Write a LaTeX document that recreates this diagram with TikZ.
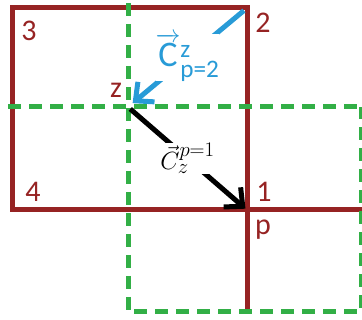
\documentclass[tikz,border=0pt]{standalone}
\usepackage{amsmath}
\usepackage{fontspec}
\setmainfont{Carlito}
\usetikzlibrary{arrows.meta}
\definecolor{gridred}{RGB}{150,35,35}
\definecolor{gridgreen}{RGB}{50,175,70}
\definecolor{vecblue}{RGB}{40,155,215}

\begin{document}
\begin{tikzpicture}[x=1pt, y=-1pt,
    redline/.style={draw=gridred, line width=5pt},
    greenline/.style={draw=gridgreen, line width=5pt, dash pattern=on 13pt off 8pt},
    corner/.style={text=gridred, font=\fontsize{30}{30}\selectfont, inner sep=0pt},
    vecarrow/.style={line width=5pt, -{Straight Barb[length=14pt,width=26pt]}}]
  \useasboundingbox (0,0) rectangle (362,320);

  \coordinate (nw) at (12,8);
  \coordinate (ne) at (247,8);
  \coordinate (sw) at (12,210);
  \coordinate (se) at (247,210);
  \coordinate (zpt) at (128,107);
  \coordinate (east) at (362,210);
  \coordinate (south) at (247,314);

  \draw[redline] (nw) rectangle (se);
  \draw[redline] (se) -- (east);
  \draw[redline] (se) -- (south);

  \draw[greenline] (128,3) -- (128,312) -- (361,312) -- (361,107);
  \draw[greenline] (8,107) -- (362,107);

  \node[corner] (n3) at (29,31) {3};
  \node[corner] (n2) at (263,23) {2};
  \node[corner] (nz) at (116,90) {z};
  \node[corner] (n4) at (33,192) {4};
  \node[corner] (n1) at (264,192) {1};
  \node[corner] (np) at (263,230) {p};

  \draw[vecarrow, draw=vecblue, shorten <=4pt, shorten >=6pt] (ne) --
    node[fill=white, inner sep=0pt, text=vecblue, font=\fontsize{36}{36}\selectfont]
    (cblue) {$\overrightarrow{\text{C}}^{\text{z}}_{\text{p=2}}$} (zpt);
  \draw[vecarrow, draw=black, shorten <=3pt, shorten >=2pt] (zpt) --
    node[fill=white, inner sep=0pt, font=\fontsize{30}{30}\selectfont]
    (cblack) {$\vec{C}_z^{p=1}$} (se);
\end{tikzpicture}
\end{document}
